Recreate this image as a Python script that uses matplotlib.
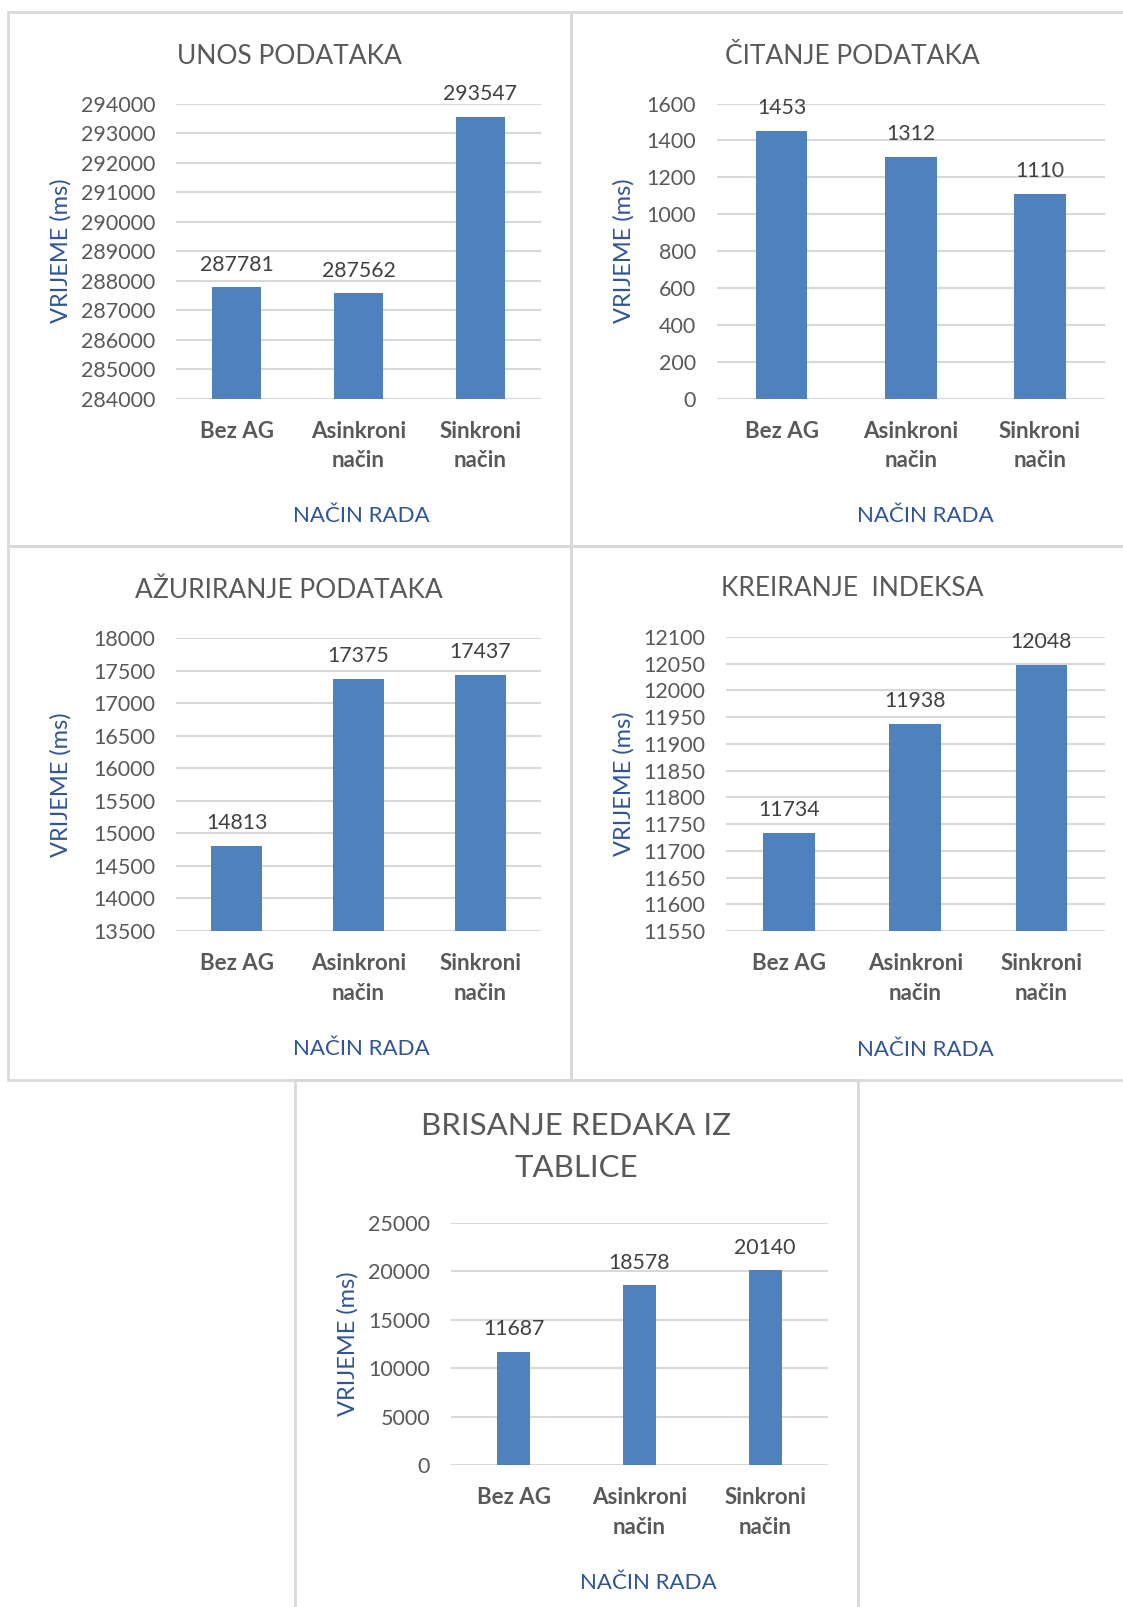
import matplotlib
matplotlib.use("Agg")
import matplotlib.pyplot as plt
from matplotlib.patches import Rectangle

plt.rcParams['font.family'] = ['Lato', 'DejaVu Sans']

W, H = 1123, 1607

kategorije = ['Bez AG', 'Asinkroni\nnačin', 'Sinkroni\nnačin']

naslovi = ['UNOS PODATAKA', 'ČITANJE PODATAKA', 'AŽURIRANJE PODATAKA',
           'KREIRANJE  INDEKSA', 'BRISANJE REDAKA IZ\nTABLICE']

unos = [287781, 287562, 293547]
citanje = [1453, 1312, 1110]
azuriranje = [14813, 17375, 17437]
kreiranje = [11734, 11938, 12048]
brisanje = [11687, 18578, 20140]

# (min, max, korak) za y os
y_osi = [(284000, 294000, 1000), (0, 1600, 200), (13500, 18000, 500),
         (11550, 12100, 50), (0, 25000, 5000)]

bar_color = '#4F81BD'
grid_color = '#D9D9D9'
text_gray = '#595959'
label_gray = '#404040'
blue = '#2F5597'

fig = plt.figure(figsize=(W / 100, H / 100), dpi=100)


def fx(x):
    return x / W


def fy(y):
    return 1 - y / H


# okviri grafova (pikseli: x0, y0, x1, y1)
okviri = [(8, 12, 571, 546), (571, 12, 1130, 546), (8, 546, 571, 1080),
          (571, 546, 1130, 1080), (295, 1080, 858, 1612)]
for x0, y0, x1, y1 in okviri:
    fig.patches.append(Rectangle((fx(x0), fy(y1)), fx(x1 - x0), (y1 - y0) / H,
                                 transform=fig.transFigure, fill=False,
                                 edgecolor=grid_color, linewidth=2))

# podrucja crtanja (pikseli: x0, y_top, x1, y_bottom)
podrucja = [(176, 103.5, 541, 398.6), (717, 103.5, 1104.5, 398.6),
            (176, 638, 541, 931), (726, 637, 1104.5, 931),
            (451, 1223, 828, 1465)]
sirine = [0.4, 0.4, 0.42, 0.41, 0.26]
ylabel_x = [-0.285, -0.213, -0.285, -0.242, -0.245]
xlabel_pos = [(0.509, -0.365), (0.537, -0.365), (0.509, -0.37),
              (0.526, -0.37), (0.524, -0.447)]
naslov_pos = [(289, 56), (852, 56), (289, 590), (852, 588), (576, 1147)]
naslov_size = [19, 19, 19, 19, 22.5]

podaci = [unos, citanje, azuriranje, kreiranje, brisanje]

for i, vrijednosti in enumerate(podaci):
    x0, yt, x1, yb = podrucja[i]
    ax = fig.add_axes([fx(x0), fy(yb), fx(x1 - x0), (yb - yt) / H])
    ymin, ymax, step = y_osi[i]
    pos = range(len(kategorije))
    bars = ax.bar(pos, vrijednosti, width=sirine[i], color=bar_color, zorder=3)
    ax.set_ylim(ymin, ymax)
    ax.set_xlim(-0.5, 2.5)
    ax.set_yticks(range(ymin, ymax + 1, step))
    ax.set_xticks(list(pos))
    ax.set_xticklabels(kategorije, fontweight='bold', fontsize=16,
                       color=text_gray, linespacing=1.5)
    ax.tick_params(axis='y', labelsize=15.5, labelcolor=text_gray, length=0, pad=15)
    ax.tick_params(axis='x', length=0, pad=16)
    ax.grid(axis='y', color=grid_color, linewidth=1.5, zorder=0)
    ax.set_axisbelow(True)
    for s in ax.spines.values():
        s.set_visible(False)
    for b, v in zip(bars, vrijednosti):
        ax.annotate(str(v), (b.get_x() + b.get_width() / 2, v),
                    xytext=(0, 9), textcoords='offset points',
                    ha='center', va='bottom', fontsize=15.3, color=label_gray)
    ax.set_ylabel('VRIJEME (ms)', fontsize=17, color=blue)
    ax.yaxis.set_label_coords(ylabel_x[i], 0.5)
    ax.set_xlabel('NAČIN RADA', fontsize=16, color=blue)
    ax.xaxis.set_label_coords(*xlabel_pos[i])
    tx, ty = naslov_pos[i]
    fig.text(fx(tx), fy(ty), naslovi[i], ha='center', va='center',
             fontsize=naslov_size[i], color=text_gray, linespacing=1.65)

fig.savefig('out.png', dpi=100)
